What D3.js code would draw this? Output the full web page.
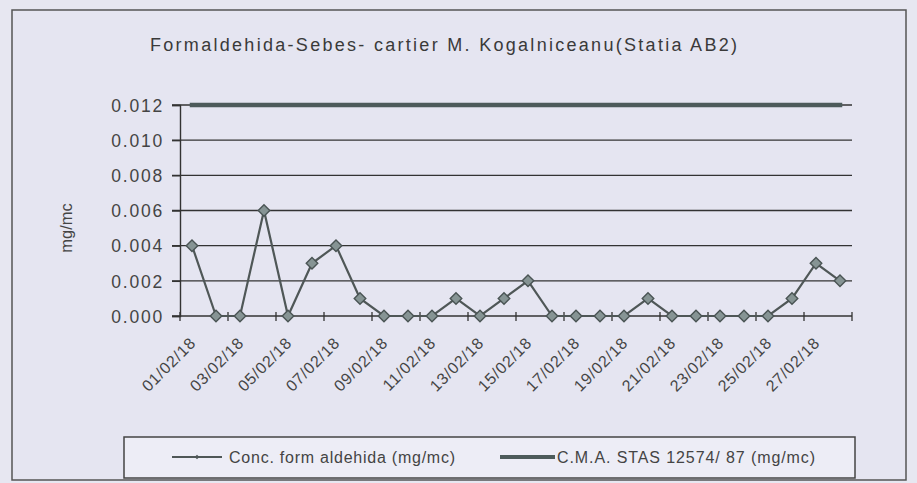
<!DOCTYPE html>
<html><head><meta charset="utf-8">
<script src="https://cdn.jsdelivr.net/npm/d3@7"></script>
<style>body{margin:0;background:#e7e7f1}svg{display:block}</style>
</head><body>
<svg id="c" width="917" height="483"></svg>
<script>
const dates = ["01/02/18","02/02/18","03/02/18","04/02/18","05/02/18","06/02/18","07/02/18","08/02/18","09/02/18","10/02/18","11/02/18","12/02/18","13/02/18","14/02/18","15/02/18","16/02/18","17/02/18","18/02/18","19/02/18","20/02/18","21/02/18","22/02/18","23/02/18","24/02/18","25/02/18","26/02/18","27/02/18","28/02/18"];
const conc = [0.004,0,0,0.006,0,0.003,0.004,0.001,0,0,0,0.001,0,0.001,0.002,0,0,0,0,0.001,0,0,0,0,0,0.001,0.003,0.002];
const cma = dates.map(() => 0.012);
const yTicks = [0,0.002,0.004,0.006,0.008,0.010,0.012];
const title = "Formaldehida-Sebes- cartier M. Kogalniceanu(Statia AB2)";
const yTitle = "mg/mc";
const legendLabels = ["Conc. form aldehida (mg/mc)","C.M.A. STAS 12574/ 87 (mg/mc)"];

const svg = d3.select("#c");
const font = "'Liberation Sans', Arial, sans-serif";
const ink = "#3a3a3a";

svg.append("rect").attr("x",0).attr("y",0).attr("width",917).attr("height",483).attr("fill","#e7e7f1");
svg.append("rect").attr("x",12).attr("y",10).attr("width",894).attr("height",470)
  .attr("fill","#e5e5f1").attr("stroke","#555").attr("stroke-width",1.5);

const L=180, R=852, T=105, B=316;
const x = d3.scaleBand().domain(dates).range([L,R]).padding(0);
const y = d3.scaleLinear().domain([0,0.012]).range([B,T]);
const cx = d => x(d) + x.bandwidth()/2;

// title
svg.append("text").attr("x",150).attr("y",51).attr("font-family",font).attr("font-size",18)
  .attr("fill",ink).attr("textLength",587).attr("lengthAdjust","spacing").text(title);

// gridlines
svg.append("g").selectAll("line").data(yTicks.filter(v=>v>0)).join("line")
  .attr("x1",L-8).attr("x2",R).attr("y1",d=>y(d)).attr("y2",d=>y(d))
  .attr("stroke","#333").attr("stroke-width",1.4);

// y axis
const yAxis = d3.axisLeft(y).tickValues(yTicks).tickFormat(d3.format(".3f")).tickSize(8).tickPadding(8);
const gy = svg.append("g").attr("transform",`translate(${L},0)`).call(yAxis);
gy.select(".domain").attr("stroke","#333").attr("stroke-width",1.4);
gy.selectAll(".tick line").attr("stroke","#333").attr("stroke-width",1.4);
gy.selectAll(".tick text").attr("font-family",font).attr("font-size",17.5).attr("fill","#444")
  .attr("letter-spacing","1.8px").attr("dy","0.36em");

// x axis
const gx = svg.append("g").attr("transform",`translate(0,${B})`);
gx.append("line").attr("x1",L-8).attr("x2",R).attr("stroke","#333").attr("stroke-width",1.4);
const boundaries = dates.filter((d,i)=>i%2===0).map(d=>x(d)).concat([R]);
gx.selectAll("line.t").data(boundaries).join("line").attr("class","t")
  .attr("x1",d=>d).attr("x2",d=>d).attr("y1",-4).attr("y2",5).attr("stroke","#333").attr("stroke-width",1.3);
gx.selectAll("text").data(dates.filter((d,i)=>i%2===0)).join("text")
  .attr("transform",d=>`translate(${cx(d)+1},24) rotate(-45)`)
  .attr("text-anchor","end").attr("dy","0.35em")
  .attr("font-family",font).attr("font-size",16).attr("fill","#444").attr("letter-spacing","0.8px")
  .text(d=>d);

// y title
svg.append("text").attr("transform","translate(72,228) rotate(-90)").attr("text-anchor","middle")
  .attr("font-family",font).attr("font-size",16.5).attr("fill","#444").text(yTitle);

// CMA line
const line = d3.line().x((d,i)=>cx(dates[i])).y(d=>y(d));
svg.append("path").datum(cma).attr("d",line).attr("fill","none")
  .attr("stroke","#4d5b5b").attr("stroke-width",4.5).attr("stroke-linecap","square");

// concentration line
svg.append("path").datum(conc).attr("d",line).attr("fill","none")
  .attr("stroke","#4f5757").attr("stroke-width",2.2);
const sym = d3.symbol().type(d3.symbolDiamond2).size(85);
svg.append("g").selectAll("path").data(conc).join("path")
  .attr("transform",(d,i)=>`translate(${cx(dates[i])},${y(d)})`)
  .attr("d",sym).attr("fill","#869494").attr("stroke","#4a5454").attr("stroke-width",1.4);

// legend
svg.append("rect").attr("x",124).attr("y",437).attr("width",731).attr("height",41)
  .attr("fill","#ededf6").attr("stroke","#444").attr("stroke-width",1.5);
const ly = 457;
svg.append("line").attr("x1",172).attr("x2",222).attr("y1",ly).attr("y2",ly).attr("stroke","#4f5757").attr("stroke-width",2);
svg.append("path").attr("transform",`translate(197,${ly})`).attr("d",d3.symbol().type(d3.symbolDiamond2).size(14))
  .attr("fill","#4f5757");
svg.append("text").attr("x",229).attr("y",ly).attr("dy","0.36em").attr("font-family",font).attr("font-size",16)
  .attr("fill","#444").attr("textLength",226).attr("lengthAdjust","spacing").text(legendLabels[0]);
svg.append("line").attr("x1",500).attr("x2",555).attr("y1",ly).attr("y2",ly).attr("stroke","#4d5b5b").attr("stroke-width",4);
svg.append("text").attr("x",557).attr("y",ly).attr("dy","0.36em").attr("font-family",font).attr("font-size",16)
  .attr("fill","#444").attr("textLength",258).attr("lengthAdjust","spacing").text(legendLabels[1]);
</script>
</body></html>
